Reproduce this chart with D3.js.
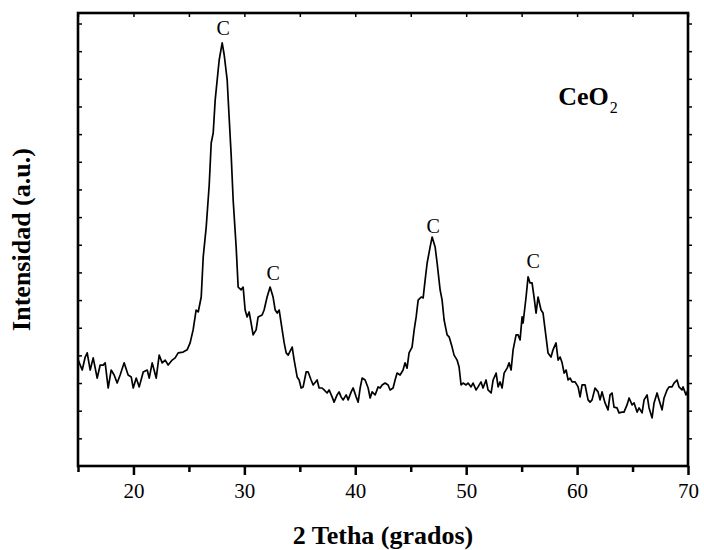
<!DOCTYPE html>
<html>
<head>
<meta charset="utf-8">
<script src="https://cdn.jsdelivr.net/npm/d3@7"></script>
<style>
  body { margin: 0; background: #fff; }
  svg { display: block; }
  text { font-family: "Liberation Serif", "Times New Roman", serif; fill: #000; }
</style>
</head>
<body>
<div id="chart"></div>
<script>
// XRD pattern of CeO2
var twoTheta = [15.02, 15.38, 15.65, 15.83, 16.10, 16.37, 16.73, 17.00, 17.27, 17.45, 17.72, 17.99, 18.26, 18.53, 18.80, 19.16, 19.52, 19.80, 19.98, 20.25, 20.52, 20.88, 21.24, 21.42, 21.69, 22.05, 22.32, 22.59, 22.86, 23.13, 23.49, 23.76, 24.03, 24.48,
  24.84, 25.11, 25.38, 25.65, 25.84, 26.11, 26.29, 26.56, 26.83, 27.01, 27.19, 27.37, 27.55, 27.73, 28.00, 28.18, 28.45, 28.63, 28.81, 28.99, 29.26, 29.44, 29.71, 29.89, 30.07, 30.25, 30.43, 30.61, 30.79, 31.06, 31.24, 31.60, 31.78, 32.05, 32.32, 32.59, 32.78, 32.96, 33.14, 33.41, 33.59, 33.77, 33.95,
  34.31, 34.49, 34.76, 34.94, 35.12, 35.30, 35.57, 35.75, 36.02, 36.20, 36.56, 36.74, 37.01, 37.19, 37.46, 37.64, 37.91, 38.09, 38.36, 38.54, 38.72, 38.91, 39.18, 39.36, 39.63, 39.81, 40.08, 40.26, 40.44, 40.62, 40.89, 41.16, 41.34, 41.52, 41.79, 42.06, 42.24, 42.42, 42.69, 42.96,
  43.14, 43.41, 43.59, 43.77, 44.04, 44.31, 44.49, 44.67, 44.85, 45.12, 45.31, 45.49, 45.67, 45.94, 46.12, 46.30, 46.48, 46.75, 46.93, 47.20, 47.38, 47.65, 47.83, 48.01, 48.28, 48.46, 48.73, 48.91, 49.18, 49.36, 49.54, 49.72, 49.99, 50.17, 50.44, 50.62, 50.89, 51.07, 51.34, 51.52, 51.79, 51.97, 52.25, 52.43,
  52.70, 52.88, 53.06, 53.24, 53.42, 53.69, 53.87, 54.05, 54.23, 54.50, 54.68, 54.86, 55.04, 55.13, 55.40, 55.58, 55.76, 55.94, 56.12, 56.30, 56.48, 56.75, 56.93, 57.20, 57.38, 57.65, 57.83, 58.10, 58.29, 58.47, 58.65, 58.83, 59.01, 59.19, 59.37, 59.55, 59.82, 60.09, 60.27, 60.45, 60.72, 60.99, 61.17, 61.35, 61.62,
  61.89, 62.07, 62.25, 62.52, 62.79, 62.97, 63.15, 63.33, 63.60, 63.78, 64.05, 64.23, 64.50, 64.69, 64.96, 65.14, 65.41, 65.59, 65.86, 66.04, 66.31, 66.49, 66.76, 66.94, 67.21, 67.39, 67.66, 67.84, 68.11, 68.29, 68.56, 68.74, 69.01, 69.19, 69.46, 69.55, 69.82, 70.00];

var intensity = [383, 347, 394, 409, 347, 391, 318, 365, 365, 373, 282, 347, 329, 300, 329, 373, 329, 322, 282, 318, 286, 340, 347, 318, 373, 318, 401, 373, 383, 365, 383, 391, 409, 412,
  420, 445, 492, 564, 557, 611, 756, 864, 1016, 1168, 1204, 1324, 1396, 1468, 1530, 1487, 1396, 1259, 1125, 962, 792, 647, 637, 647, 564, 539, 557, 517, 474, 492, 539, 546, 564, 611, 647, 611, 564, 553, 564, 492, 445, 409, 401,
  430, 383, 322, 311, 282, 286, 340, 340, 311, 293, 311, 282, 282, 275, 264, 275, 250, 231, 257, 268, 250, 239, 257, 239, 268, 282, 250, 231, 282, 318, 311, 282, 246, 268, 257, 286, 282, 293, 300, 293,
  275, 282, 311, 336, 329, 347, 373, 354, 409, 430, 492, 539, 600, 611, 608, 673, 734, 792, 828, 792, 734, 637, 600, 528, 474, 467, 430, 401, 383, 358, 293, 300, 293, 300, 286, 300, 275, 286, 304, 282, 311, 275, 264, 311,
  336, 286, 304, 282, 336, 354, 373, 347, 420, 474, 474, 456, 539, 517, 611, 684, 662, 662, 611, 553, 611, 564, 553, 467, 409, 394, 420, 445, 383, 394, 373, 336, 347, 311, 318, 304, 304, 286, 250, 293, 293, 239, 231, 239, 282,
  268, 239, 268, 228, 203, 257, 264, 213, 210, 192, 195, 195, 221, 246, 221, 228, 195, 210, 192, 239, 257, 210, 174, 228, 264, 239, 203, 246, 275, 286, 286, 300, 311, 286, 275, 286, 257, 275];

// peak markers "C" (anchor in data units)
var peakLabelDeg = [28.09, 32.59, 47.02, 56.03];
var peakLabelInt = [1559, 673, 843, 716];

var xTicks = [20, 30, 40, 50, 60, 70];
var xMinorTicks = [15, 25, 35, 45, 55, 65];
var yTicks = d3.range(100, 1700, 100);

var width = 704, height = 550;
var margin = {top: 13, right: 16, bottom: 84, left: 78};

var svg = d3.select("#chart").append("svg")
    .attr("width", width)
    .attr("height", height);

var x = d3.scaleLinear().domain([15, 70]).range([margin.left, width - margin.right]);
var y = d3.scaleLinear().domain([0, 1638]).range([height - margin.bottom, margin.top]);

var x0 = x.range()[0], x1 = x.range()[1];
var yb = y.range()[0], yt = y.range()[1];

// bottom axis
svg.append("g")
    .attr("transform", "translate(0," + yb + ")")
    .call(d3.axisBottom(x).tickValues(xTicks).tickSize(9).tickFormat(d3.format("d")))
    .call(function(g){
        g.select(".domain").remove();
        g.selectAll(".tick line").attr("stroke-width", 2.5);
        g.selectAll(".tick text").attr("dy", "0.95em").style("font-size", "21px")
            .style("font-family", "'Liberation Serif', serif");
    });
svg.append("g")
    .attr("transform", "translate(0," + yb + ")")
    .call(d3.axisBottom(x).tickValues(xMinorTicks).tickSize(6).tickFormat(""))
    .call(function(g){
        g.select(".domain").remove();
        g.selectAll(".tick line").attr("stroke-width", 2.5);
    });

// top axis, small inner ticks
svg.append("g")
    .attr("transform", "translate(0," + yt + ")")
    .call(d3.axisBottom(x).tickValues(xTicks.concat(xMinorTicks)).tickSize(4).tickFormat(""))
    .call(function(g){
        g.select(".domain").remove();
        g.selectAll(".tick line").attr("stroke-width", 1.5);
    });

// left axis, inner ticks, no labels
svg.append("g")
    .attr("transform", "translate(" + x0 + ",0)")
    .call(d3.axisRight(y).tickValues(yTicks).tickSize(4).tickFormat(""))
    .call(function(g){
        g.select(".domain").remove();
        g.selectAll(".tick line").attr("stroke-width", 1.5);
    });

// right axis
svg.append("g")
    .attr("transform", "translate(" + x1 + ",0)")
    .call(d3.axisRight(y).tickValues(yTicks).tickSize(4).tickFormat(""))
    .call(function(g){
        g.select(".domain").remove();
        g.selectAll(".tick line").attr("stroke-width", 1.5);
    });

// frame
svg.append("rect")
    .attr("x", x0).attr("y", yt)
    .attr("width", x1 - x0).attr("height", yb - yt)
    .attr("fill", "none")
    .attr("stroke", "#000")
    .attr("stroke-width", 2.6);

// pattern
var line = d3.line()
    .x(function(d, i){ return x(twoTheta[i]); })
    .y(function(d){ return y(d); });

svg.append("path")
    .datum(intensity)
    .attr("d", line)
    .attr("fill", "none")
    .attr("stroke", "#000")
    .attr("stroke-width", 1.7)
    .attr("stroke-linejoin", "round");

// peak labels
svg.selectAll(".peak")
    .data(peakLabelDeg)
    .enter().append("text")
    .attr("class", "peak")
    .attr("x", function(d){ return x(d); })
    .attr("y", function(d, i){ return y(peakLabelInt[i]); })
    .attr("text-anchor", "middle")
    .style("font-size", "20px")
    .text("C");

// sample name
var sampleLabel = svg.append("text")
    .attr("x", x(58.3))
    .attr("y", y(1306))
    .style("font-size", "26px")
    .style("font-weight", "bold");
sampleLabel.append("tspan").text("CeO");
sampleLabel.append("tspan").attr("dx", 1).attr("dy", 8).style("font-size", "16px").style("font-weight", "normal").text("2");

// axis titles
svg.append("text")
    .attr("x", (x0 + x1) / 2)
    .attr("y", 544)
    .attr("text-anchor", "middle")
    .style("font-size", "26px")
    .style("font-weight", "bold")
    .text("2 Tetha (grados)");

svg.append("text")
    .attr("transform", "translate(30," + ((yt + yb) / 2) + ") rotate(-90)")
    .attr("text-anchor", "middle")
    .style("font-size", "26px")
    .style("font-weight", "bold")
    .text("Intensidad (a.u.)");
</script>
</body>
</html>
